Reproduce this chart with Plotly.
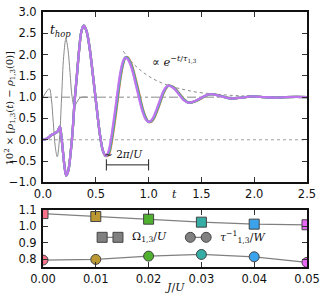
import plotly.graph_objects as go

# ---------------- data ----------------
J_values = [0.00, 0.01, 0.02, 0.03, 0.04, 0.05]
colors = ["#f77189", "#bb9832", "#50b131", "#36ada4", "#3ba3ec", "#e866f4"]

omega = [1.076, 1.058, 1.042, 1.024, 1.012, 1.008]
tau_inv = [0.794, 0.798, 0.818, 0.828, 0.814, 0.780]

t_early = [0, 0.04, 0.08, 0.11, 0.14, 0.16, 0.175, 0.19, 0.205, 0.22, 0.24, 0.261,
           0.28, 0.30, 0.32, 0.344, 0.365, 0.385, 0.41, 0.437, 0.49, 0.542, 0.57, 0.594]
v_early = [0.0, 0.03, 0.11, 0.15, 0.2, 0.31, 0.05, -0.3, -0.65, -0.84, -0.72, -0.32,
           0.19, 0.92, 1.48, 2.16, 2.56, 2.68, 2.57, 2.23, 1.15, 0.07, -0.28, -0.38]

t_late = [0.62, 0.64, 0.687, 0.733, 0.76, 0.78, 0.80, 0.835, 0.89, 0.945, 0.975, 1.0,
          1.025, 1.047, 1.095, 1.142, 1.17, 1.19, 1.237, 1.285, 1.332, 1.38, 1.43,
          1.485, 1.54, 1.59, 1.685, 1.78, 1.88, 1.98, 2.1, 2.2, 2.3, 2.4, 2.5]
v_late_j000 = [-0.37, -0.21, 0.53, 1.42, 1.78, 1.93, 1.94, 1.80, 1.31, 0.735, 0.52, 0.42,
               0.42, 0.48, 0.76, 1.09, 1.22, 1.27, 1.24, 1.11, 0.96, 0.87, 0.89,
               0.95, 1.03, 1.07, 1.03, 0.97, 0.99, 1.02, 1.0, 0.99, 1.0, 1.005, 1.0]
v_late_j001 = [-0.35, -0.176, 0.579, 1.454, 1.796, 1.93, 1.932, 1.782, 1.283, 0.716, 0.51, 0.42,
               0.427, 0.492, 0.777, 1.102, 1.225, 1.27, 1.234, 1.102, 0.954, 0.87, 0.892,
               0.954, 1.032, 1.07, 1.028, 0.97, 0.99, 1.02, 1.0, 0.99, 1.0, 1.005, 1.0]
v_late_j002 = [-0.33, -0.142, 0.628, 1.488, 1.812, 1.93, 1.924, 1.764, 1.256, 0.697, 0.50, 0.42,
               0.434, 0.504, 0.794, 1.114, 1.231, 1.27, 1.228, 1.094, 0.948, 0.87, 0.894,
               0.958, 1.034, 1.07, 1.026, 0.97, 0.99, 1.02, 1.0, 0.99, 1.0, 1.005, 1.0]
v_late_j003 = [-0.31, -0.108, 0.677, 1.522, 1.828, 1.93, 1.916, 1.746, 1.229, 0.678, 0.49, 0.42,
               0.442, 0.516, 0.811, 1.126, 1.236, 1.27, 1.222, 1.086, 0.942, 0.87, 0.896,
               0.962, 1.036, 1.07, 1.024, 0.97, 0.99, 1.02, 1.0, 0.99, 1.0, 1.005, 1.0]
v_late_j004 = [-0.29, -0.074, 0.726, 1.556, 1.844, 1.93, 1.908, 1.728, 1.202, 0.659, 0.48, 0.42,
               0.449, 0.528, 0.828, 1.138, 1.242, 1.27, 1.216, 1.078, 0.936, 0.87, 0.898,
               0.966, 1.038, 1.07, 1.022, 0.97, 0.99, 1.02, 1.0, 0.99, 1.0, 1.005, 1.0]
v_late_j005 = [-0.27, -0.04, 0.775, 1.59, 1.86, 1.93, 1.90, 1.71, 1.175, 0.64, 0.47, 0.42,
               0.456, 0.54, 0.845, 1.15, 1.247, 1.27, 1.21, 1.07, 0.93, 0.87, 0.90,
               0.97, 1.04, 1.07, 1.02, 0.97, 0.99, 1.02, 1.0, 0.99, 1.0, 1.005, 1.0]
v_late = [v_late_j000, v_late_j001, v_late_j002, v_late_j003, v_late_j004, v_late_j005]

t_hop_t = [0, 0.03, 0.06, 0.079, 0.0975, 0.116, 0.135, 0.155, 0.176, 0.196, 0.217,
           0.236, 0.256, 0.275, 0.295, 0.315, 0.34, 0.37, 0.42]
t_hop_v = [1.0, 1.12, 1.2, 0.96, 0.4, -0.16, -0.4, -0.01, 0.985, 1.96, 2.37,
           2.13, 1.58, 1.02, 0.79, 0.85, 0.96, 1.0, 1.0]

env_t = [0.76, 0.85, 0.95, 1.05, 1.15, 1.25, 1.35, 1.45, 1.6, 1.8, 2.0, 2.25, 2.5]
env_v = [2.08, 1.80, 1.58, 1.42, 1.31, 1.23, 1.17, 1.12, 1.08, 1.04, 1.02, 1.01, 1.0]

t_range = [0.0, 2.5]
level_one = 1.0
level_zero = 0.0
period_bracket_t = [0.6, 1.0]
period_bracket_v = -0.59

x_ticks_top = [0.0, 0.5, 1.0, 1.5, 2.0, 2.5]
y_ticks_top = [-1.0, -0.5, 0.0, 0.5, 1.0, 1.5, 2.0, 2.5, 3.0]
x_ticks_bot = [0.00, 0.01, 0.02, 0.03, 0.04, 0.05]
y_ticks_bot = [0.8, 0.9, 1.0, 1.1]

# ---------------- figure ----------------
fig = go.Figure()
serif = "DejaVu Serif"
sans = "DejaVu Sans"

# reference lines
fig.add_trace(go.Scatter(x=t_range, y=[level_zero, level_zero], mode="lines",
                         line=dict(color="#888888", width=0.8, dash="dot"),
                         xaxis="x", yaxis="y", hoverinfo="skip"))
fig.add_trace(go.Scatter(x=t_range, y=[level_one, level_one], mode="lines",
                         line=dict(color="#b0b0b0", width=1.5, dash="dashdot"),
                         xaxis="x", yaxis="y", hoverinfo="skip"))
# hopping-only curve
fig.add_trace(go.Scatter(x=t_hop_t, y=t_hop_v, mode="lines", line_shape="spline",
                         line=dict(color="#8a8a8a", width=1.0),
                         xaxis="x", yaxis="y", hoverinfo="skip"))
# envelope
fig.add_trace(go.Scatter(x=env_t, y=env_v, mode="lines", line_shape="spline",
                         line=dict(color="#8a8a8a", width=1.0, dash="dot"),
                         xaxis="x", yaxis="y", hoverinfo="skip"))
# main curves
for k in range(len(J_values)):
    fig.add_trace(go.Scatter(x=t_early + t_late, y=v_early + v_late[k], mode="lines",
                             line_shape="spline", opacity=0.75,
                             line=dict(color=colors[k], width=2.3),
                             xaxis="x", yaxis="y", hoverinfo="skip"))
# bracket 2pi/U
fig.add_trace(go.Scatter(x=period_bracket_t, y=[period_bracket_v] * 2, mode="lines+markers",
                         line=dict(color="#222222", width=1),
                         marker=dict(symbol="line-ns", size=8,
                                     line=dict(color="#222222", width=1)),
                         xaxis="x", yaxis="y", hoverinfo="skip"))

# bottom panel
fig.add_trace(go.Scatter(x=J_values, y=omega, mode="lines", line=dict(color="#808080", width=1.3),
                         xaxis="x2", yaxis="y2", hoverinfo="skip"))
fig.add_trace(go.Scatter(x=J_values, y=tau_inv, mode="lines", line=dict(color="#808080", width=1.3),
                         xaxis="x2", yaxis="y2", hoverinfo="skip"))
fig.add_trace(go.Scatter(x=J_values, y=omega, mode="markers",
                         marker=dict(symbol="square", size=10, color=colors,
                                     line=dict(color="#444444", width=1)),
                         xaxis="x2", yaxis="y2", hoverinfo="skip"))
fig.add_trace(go.Scatter(x=J_values, y=tau_inv, mode="markers",
                         marker=dict(symbol="circle", size=10, color=colors,
                                     line=dict(color="#444444", width=1)),
                         xaxis="x2", yaxis="y2", hoverinfo="skip"))
# legend keys drawn inside the bottom panel
fig.add_trace(go.Scatter(x=[0.0112, 0.0142], y=[0.932, 0.932], mode="lines+markers",
                         line=dict(color="#808080", width=1.3),
                         marker=dict(symbol="square", size=10, color="#808080",
                                     line=dict(color="#444444", width=1)),
                         xaxis="x2", yaxis="y2", hoverinfo="skip", cliponaxis=False))
fig.add_trace(go.Scatter(x=[0.0279, 0.0309], y=[0.932, 0.932], mode="lines+markers",
                         line=dict(color="#808080", width=1.3),
                         marker=dict(symbol="circle", size=10, color="#808080",
                                     line=dict(color="#444444", width=1)),
                         xaxis="x2", yaxis="y2", hoverinfo="skip", cliponaxis=False))

axis_common = dict(showline=True, linewidth=2, linecolor="#111111", mirror="ticks",
                   ticks="inside", ticklen=5, tickwidth=1, tickcolor="#333333",
                   showgrid=False, zeroline=False,
                   tickfont=dict(family=sans, size=11.5, color="#111111"))

fig.update_layout(
    width=325, height=300,
    margin=dict(l=43, r=17, t=5, b=33),
    paper_bgcolor="white", plot_bgcolor="white",
    showlegend=False,
    xaxis=dict(domain=[0, 1], range=[0, 2.5], tickvals=x_ticks_top, tickformat=".1f",
               anchor="y", **axis_common),
    yaxis=dict(domain=[0.332, 1], range=[-1.0, 3.0], tickvals=y_ticks_top, tickformat=".1f",
               anchor="x", ticklabelstandoff=2, **axis_common),
    xaxis2=dict(domain=[0, 1], range=[0, 0.05], tickvals=x_ticks_bot, tickformat=".2f",
                anchor="y2", **axis_common),
    yaxis2=dict(domain=[0, 0.225], range=[0.752, 1.1], tickvals=y_ticks_bot, tickformat=".1f",
                anchor="x2", ticklabelstandoff=2, **axis_common),
    annotations=[
        dict(text="10<sup>2</sup> × [<i>ρ</i><sub>1,3</sub>(<i>t</i>) − <i>ρ</i><sub>1,3</sub>(0)]",
             xref="paper", yref="y", x=-0.126, y=0.75, textangle=-90, showarrow=False,
             xanchor="center", yanchor="middle",
             font=dict(family=serif, size=10, color="#111111")),
        dict(text="<i>t</i>", xref="x", yref="paper", x=1.245, y=0.317, showarrow=False,
             yanchor="top", font=dict(family=serif, size=11, color="#111111")),
        dict(text="<i>J</i>/<i>U</i>", xref="x2", yref="paper", x=0.025, y=-0.048,
             showarrow=False, yanchor="top", font=dict(family=serif, size=11, color="#111111")),
        dict(text="<i>t</i><sub><i>hop</i></sub>", xref="x", yref="y", x=0.17, y=2.56,
             showarrow=False, font=dict(family=serif, size=12, color="#111111")),
        dict(text="∝ <i>e</i><sup>−<i>t</i>/<i>τ</i><sub>1,3</sub></sup>", xref="x", yref="y",
             x=1.01, y=1.84, xanchor="left", showarrow=False,
             font=dict(family=serif, size=11.5, color="#111111")),
        dict(text="∼ 2<i>π</i>/<i>U</i>", xref="x", yref="y", x=0.76, y=-0.34,
             showarrow=False, font=dict(family=serif, size=10.5, color="#111111")),
        dict(text="Ω<sub>1,3</sub>/<i>U</i>", xref="x2", yref="y2", x=0.0165, y=0.932,
             xanchor="left", showarrow=False, font=dict(family=serif, size=11, color="#111111")),
        dict(text="<i>τ</i><sup>−1</sup><sub>1,3</sub>/<i>W</i>", xref="x2", yref="y2",
             x=0.0331, y=0.932, xanchor="left", showarrow=False,
             font=dict(family=serif, size=11, color="#111111")),
    ],
)

fig.write_html("out.html", config={"displayModeBar": False},
               post_script="document.body.style.margin='0';")
